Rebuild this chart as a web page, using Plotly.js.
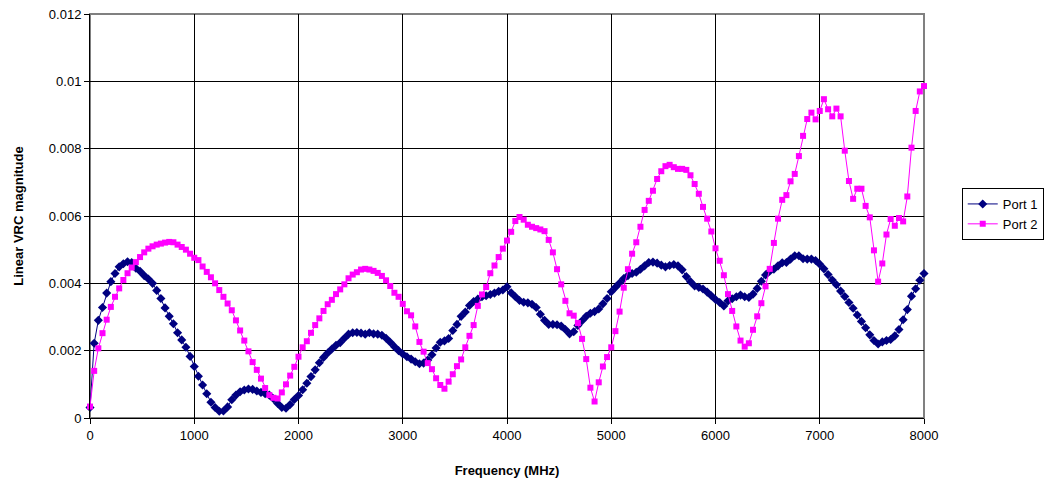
<!DOCTYPE html>
<html>
<head>
<meta charset="utf-8">
<script src="https://cdn.plot.ly/plotly-3.0.1.min.js"></script>
<style>html,body{margin:0;padding:0;background:#fff;}#chart{width:1055px;height:483px;}</style>
</head>
<body>
<div id="chart"></div>
<script>
const freqMHz = [0,40,80,120,160,200,240,280,320,360,400,440,480,520,560,600,640,680,720,760,
800,840,880,920,960,1000,1040,1080,1120,1160,1200,1240,1280,1320,1360,1400,1440,1480,1520,1560,
1600,1640,1680,1720,1760,1800,1840,1880,1920,1960,2000,2040,2080,2120,2160,2200,2240,2280,2320,2360,
2400,2440,2480,2520,2560,2600,2640,2680,2720,2760,2800,2840,2880,2920,2960,3000,3040,3080,3120,3160,
3200,3240,3280,3320,3360,3400,3440,3480,3520,3560,3600,3640,3680,3720,3760,3800,3840,3880,3920,3960,
4000,4040,4080,4120,4160,4200,4240,4280,4320,4360,4400,4440,4480,4520,4560,4600,4640,4680,4720,4760,
4800,4840,4880,4920,4960,5000,5040,5080,5120,5160,5200,5240,5280,5320,5360,5400,5440,5480,5520,5560,
5600,5640,5680,5720,5760,5800,5840,5880,5920,5960,6000,6040,6080,6120,6160,6200,6240,6280,6320,6360,
6400,6440,6480,6520,6560,6600,6640,6680,6720,6760,6800,6840,6880,6920,6960,7000,7040,7080,7120,7160,
7200,7240,7280,7320,7360,7400,7440,7480,7520,7560,7600,7640,7680,7720,7760,7800,7840,7880,7920,7960,8000];

const port1 = [0.00031,0.00222,0.0029,0.00328,0.00371,0.00405,0.00429,0.00449,0.00458,0.00464,
0.00462,0.00445,0.00436,0.00423,0.00413,0.004,0.00379,0.00355,0.00327,0.00302,
0.0028,0.00253,0.00232,0.0021,0.00183,0.00153,0.00124,0.00098,0.00072,0.00047,
0.00031,0.0002,0.00021,0.00033,0.00054,0.00068,0.00078,0.00083,0.00086,0.00085,
0.0008,0.00076,0.00072,0.00068,0.00057,0.00043,0.00031,0.00029,0.0004,0.00055,
0.00067,0.00084,0.00103,0.00123,0.00143,0.00164,0.0018,0.00193,0.00205,0.00216,
0.00224,0.00237,0.00249,0.00253,0.00254,0.00252,0.00249,0.00253,0.0025,0.00249,
0.00246,0.00237,0.00225,0.00212,0.002,0.0019,0.00182,0.00175,0.00167,0.00161,
0.00163,0.00172,0.00188,0.00208,0.00225,0.00229,0.00236,0.0026,0.00278,0.00302,
0.00315,0.00334,0.00346,0.00353,0.0036,0.00363,0.00367,0.00371,0.00376,0.0038,
0.0039,0.00372,0.0036,0.00349,0.00344,0.00342,0.00338,0.00328,0.00308,0.0029,
0.00278,0.00278,0.00277,0.00273,0.00263,0.0025,0.00256,0.00275,0.00289,0.00302,
0.00311,0.00316,0.00324,0.00339,0.00355,0.00375,0.00388,0.00401,0.00414,0.00423,
0.00429,0.00433,0.00442,0.00452,0.00462,0.00463,0.0046,0.00454,0.00449,0.00453,
0.00456,0.00452,0.0044,0.0042,0.00405,0.00392,0.00388,0.00383,0.00374,0.00363,
0.00352,0.00343,0.00333,0.00348,0.00354,0.0036,0.00365,0.0036,0.00358,0.00368,
0.00385,0.00406,0.00425,0.00436,0.00442,0.00452,0.00461,0.00462,0.00472,0.00482,
0.00482,0.00473,0.00472,0.00472,0.00468,0.00457,0.00443,0.00426,0.0041,0.00396,
0.00377,0.00361,0.00343,0.00326,0.00306,0.00287,0.00268,0.00247,0.0023,0.0022,
0.00226,0.0023,0.00233,0.00244,0.00263,0.00292,0.00322,0.00362,0.00384,0.00409,0.00429];

const port2 = [0.00034,0.0014,0.00207,0.00252,0.00292,0.0033,0.0036,0.00385,0.0041,0.0043,
0.00447,0.00463,0.00478,0.00492,0.00503,0.0051,0.00515,0.00518,0.00521,0.00523,
0.00522,0.00515,0.00508,0.005,0.00488,0.00476,0.00469,0.0045,0.00434,0.00418,
0.004,0.0038,0.0036,0.0034,0.0032,0.0029,0.0026,0.0023,0.00198,0.00166,
0.00143,0.00117,0.00089,0.00068,0.0006,0.00058,0.00076,0.001,0.00126,0.00152,
0.00182,0.0021,0.00228,0.00253,0.00276,0.00296,0.00318,0.00338,0.00351,0.00368,
0.00382,0.00397,0.00415,0.00426,0.00433,0.00441,0.00443,0.00441,0.00437,0.00431,
0.00422,0.00409,0.00392,0.00372,0.0036,0.00339,0.00317,0.00305,0.00272,0.00226,
0.00197,0.00163,0.00145,0.00118,0.00098,0.00087,0.00108,0.0013,0.00154,0.00174,
0.0021,0.00244,0.00276,0.00333,0.00367,0.00389,0.0043,0.00453,0.00478,0.00503,
0.00527,0.00553,0.00585,0.00597,0.00589,0.00574,0.00568,0.00564,0.0056,0.00555,
0.00529,0.00492,0.00442,0.00397,0.00348,0.00311,0.00304,0.00282,0.00235,0.00175,
0.0009,0.00049,0.00106,0.00153,0.00181,0.0021,0.00258,0.00316,0.00387,0.00442,
0.00488,0.00522,0.00568,0.00618,0.00645,0.00675,0.0071,0.00733,0.00748,0.00752,
0.00745,0.0074,0.0074,0.00737,0.00721,0.00695,0.00666,0.00627,0.00592,0.00554,
0.00504,0.00467,0.00424,0.00368,0.00318,0.00272,0.0023,0.00212,0.00222,0.00262,
0.00302,0.00341,0.00391,0.00443,0.0052,0.00592,0.00648,0.00662,0.00703,0.00725,
0.00778,0.00838,0.00888,0.00907,0.00887,0.00912,0.00947,0.00917,0.00896,0.00919,
0.00896,0.00794,0.00704,0.00651,0.00681,0.00681,0.0063,0.00596,0.00498,0.00405,
0.00459,0.00545,0.00591,0.00571,0.00594,0.00584,0.00658,0.00803,0.00912,0.0097,0.00986];

const seriesNames = ['Port 1', 'Port 2'];
const xTitle = 'Frequency (MHz)';
const yTitle = 'Linear VRC magnitude';

const FONT = 'Liberation Sans, Arial, sans-serif';

const traces = [
  {x: freqMHz, y: port1, name: seriesNames[0], type: 'scatter', mode: 'lines+markers',
   line: {color: '#000080', width: 1}, marker: {symbol: 'diamond', size: 7, color: '#000080'},
   cliponaxis: false},
  {x: freqMHz, y: port2, name: seriesNames[1], type: 'scatter', mode: 'lines+markers',
   line: {color: '#FF00FF', width: 1}, marker: {symbol: 'square', size: 6, color: '#FF00FF'},
   cliponaxis: false}
];

const layout = {
  width: 1055, height: 483,
  margin: {l: 90, r: 130, t: 14, b: 65},
  paper_bgcolor: '#ffffff', plot_bgcolor: '#ffffff',
  font: {family: FONT, size: 13, color: '#000'},
  showlegend: true,
  legend: {x: 1.044, y: 0.505, xanchor: 'left', yanchor: 'middle',
    bordercolor: '#000', borderwidth: 1, bgcolor: '#fff',
    font: {family: FONT, size: 13, color: '#000'}, tracegroupgap: 4},
  xaxis: {range: [0, 8000], dtick: 1000, tick0: 0, showgrid: true, gridcolor: '#000', gridwidth: 1,
    zeroline: false, showline: true, linecolor: '#000', linewidth: 1,
    ticks: 'outside', ticklen: 5, tickcolor: '#000',
    tickfont: {family: FONT, size: 13, color: '#000'},
    title: {text: xTitle, font: {family: FONT, size: 13, color: '#000', weight: 'bold'}, standoff: 24}},
  yaxis: {range: [0, 0.012], dtick: 0.002, tick0: 0, showgrid: true, gridcolor: '#000', gridwidth: 1,
    zeroline: false, showline: true, linecolor: '#000', linewidth: 1,
    ticks: 'outside', ticklen: 5, tickcolor: '#000',
    tickfont: {family: FONT, size: 13, color: '#000'},
    title: {text: yTitle, font: {family: FONT, size: 13, color: '#000', weight: 'bold'}, standoff: 22}},
  shapes: [
    {type: 'rect', xref: 'paper', yref: 'paper', x0: 0, x1: 1, y0: 0, y1: 1,
     line: {color: '#808080', width: 2}, layer: 'below'}
  ]
};

Plotly.newPlot('chart', traces, layout, {displayModeBar: false, staticPlot: true});
</script>
</body>
</html>
